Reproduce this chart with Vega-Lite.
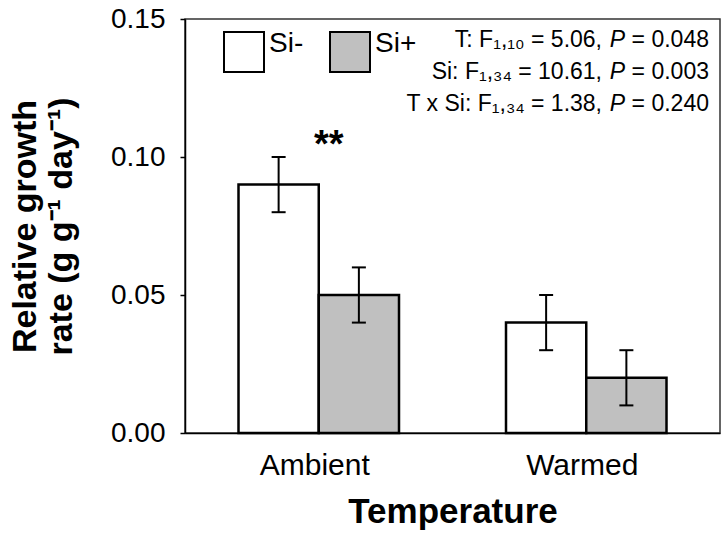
{
  "$schema": "https://vega.github.io/schema/vega-lite/v6.json",
  "width": 535,
  "height": 414,
  "autosize": "none",
  "padding": {"left": 185, "top": 19, "right": 2, "bottom": 107},
  "background": "white",
  "config": {
    "font": "Liberation Sans",
    "view": {"stroke": "#333333", "strokeWidth": 1.5},
    "axis": {"grid": false, "domainColor": "black", "domainWidth": 1.5, "tickColor": "black", "tickWidth": 1.5, "labelColor": "black", "titleColor": "black"}
  },
  "datasets": {
    "bars": [
      {"Temperature": "Ambient", "Si": "Si-", "rate": 0.09, "lo": 0.08, "hi": 0.10},
      {"Temperature": "Ambient", "Si": "Si+", "rate": 0.05, "lo": 0.04, "hi": 0.06},
      {"Temperature": "Warmed", "Si": "Si-", "rate": 0.04, "lo": 0.03, "hi": 0.05},
      {"Temperature": "Warmed", "Si": "Si+", "rate": 0.02, "lo": 0.01, "hi": 0.03}
    ],
    "stats": [
      {"pre": ["T: F₁,₁₀ = 5.06,", "Si: F₁,₃₄ = 10.61,", "T x Si: F₁,₃₄ = 1.38,"], "p": ["P", "P", "P"], "val": ["= 0.048", "= 0.003", "= 0.240"], "pos": 0.14}
    ]
  },
  "data": {"name": "bars"},
  "encoding": {
    "x": {
      "field": "Temperature", "type": "nominal", "sort": ["Ambient", "Warmed"],
      "scale": {"paddingInner": 0.4, "paddingOuter": 0.2},
      "axis": {"title": "Temperature", "titleFontSize": 35, "titleFontWeight": "bold", "titlePadding": 14, "labelFontSize": 30, "labelAngle": 0, "ticks": false, "labelPadding": 17, "labelOffset": -4}
    },
    "xOffset": {"field": "Si", "type": "nominal", "sort": ["Si-", "Si+"], "scale": {"paddingInner": 0, "paddingOuter": 0}}
  },
  "layer": [
    {
      "mark": {"type": "bar", "stroke": "black", "strokeWidth": 2.5, "opacity": 1},
      "encoding": {
        "y": {
          "field": "rate", "type": "quantitative",
          "scale": {"domain": [0, 0.15], "nice": false},
          "axis": {"values": [0, 0.05, 0.1, 0.15], "format": ".2f", "labelFontSize": 28, "tickSize": 5, "labelPadding": 15,
            "title": ["Relative growth", "rate (g g⁻¹ day⁻¹)"], "titleFontSize": 34, "titleFontWeight": "bold", "titleLineHeight": 36, "titlePadding": 32}
        },
        "fill": {
          "field": "Si", "type": "nominal",
          "scale": {"domain": ["Si-", "Si+"], "range": ["#ffffff", "#c0c0c0"]},
          "legend": {"title": null, "orient": "none", "legendX": 38, "legendY": 12, "direction": "horizontal", "padding": 0,
            "symbolType": "square", "symbolSize": 1600, "symbolStrokeColor": "black", "symbolStrokeWidth": 2, "symbolOpacity": 1,
            "labelFontSize": 28, "labelOffset": 4, "columnPadding": 22, "labelBaseline": "alphabetic", "labelColor": "black"}
        }
      }
    },
    {
      "mark": {"type": "rule", "color": "black", "strokeWidth": 2},
      "encoding": {
        "y": {"field": "lo", "type": "quantitative"},
        "y2": {"field": "hi"}
      }
    },
    {
      "mark": {"type": "tick", "color": "black", "thickness": 2, "size": 14, "opacity": 1},
      "encoding": {"y": {"field": "hi", "type": "quantitative"}}
    },
    {
      "mark": {"type": "tick", "color": "black", "thickness": 2, "size": 14, "opacity": 1},
      "encoding": {"y": {"field": "lo", "type": "quantitative"}}
    },
    {
      "data": {"values": [{"Temperature": "Ambient", "label": "**", "pos": 0.1}]},
      "mark": {"type": "text", "fontSize": 38, "fontWeight": "bold", "align": "center", "baseline": "alphabetic", "dx": 10},
      "encoding": {
        "x": {"field": "Temperature", "type": "nominal"},
        "xOffset": null,
        "y": {"field": "pos", "type": "quantitative"},
        "text": {"field": "label"}
      }
    },
    {
      "data": {"name": "stats"},
      "mark": {"type": "text", "fontSize": 23, "fontWeight": "normal", "align": "right", "baseline": "alphabetic", "lineHeight": 32, "dx": -118},
      "encoding": {"x": {"value": "width"}, "xOffset": null, "y": {"field": "pos", "type": "quantitative"}, "text": {"field": "pre"}}
    },
    {
      "data": {"name": "stats"},
      "mark": {"type": "text", "fontSize": 23, "fontWeight": "normal", "fontStyle": "italic", "align": "right", "baseline": "alphabetic", "lineHeight": 32, "dx": -95},
      "encoding": {"x": {"value": "width"}, "xOffset": null, "y": {"field": "pos", "type": "quantitative"}, "text": {"field": "p"}}
    },
    {
      "data": {"name": "stats"},
      "mark": {"type": "text", "fontSize": 23, "fontWeight": "normal", "align": "right", "baseline": "alphabetic", "lineHeight": 32, "dx": -11},
      "encoding": {"x": {"value": "width"}, "xOffset": null, "y": {"field": "pos", "type": "quantitative"}, "text": {"field": "val"}}
    }
  ]
}
